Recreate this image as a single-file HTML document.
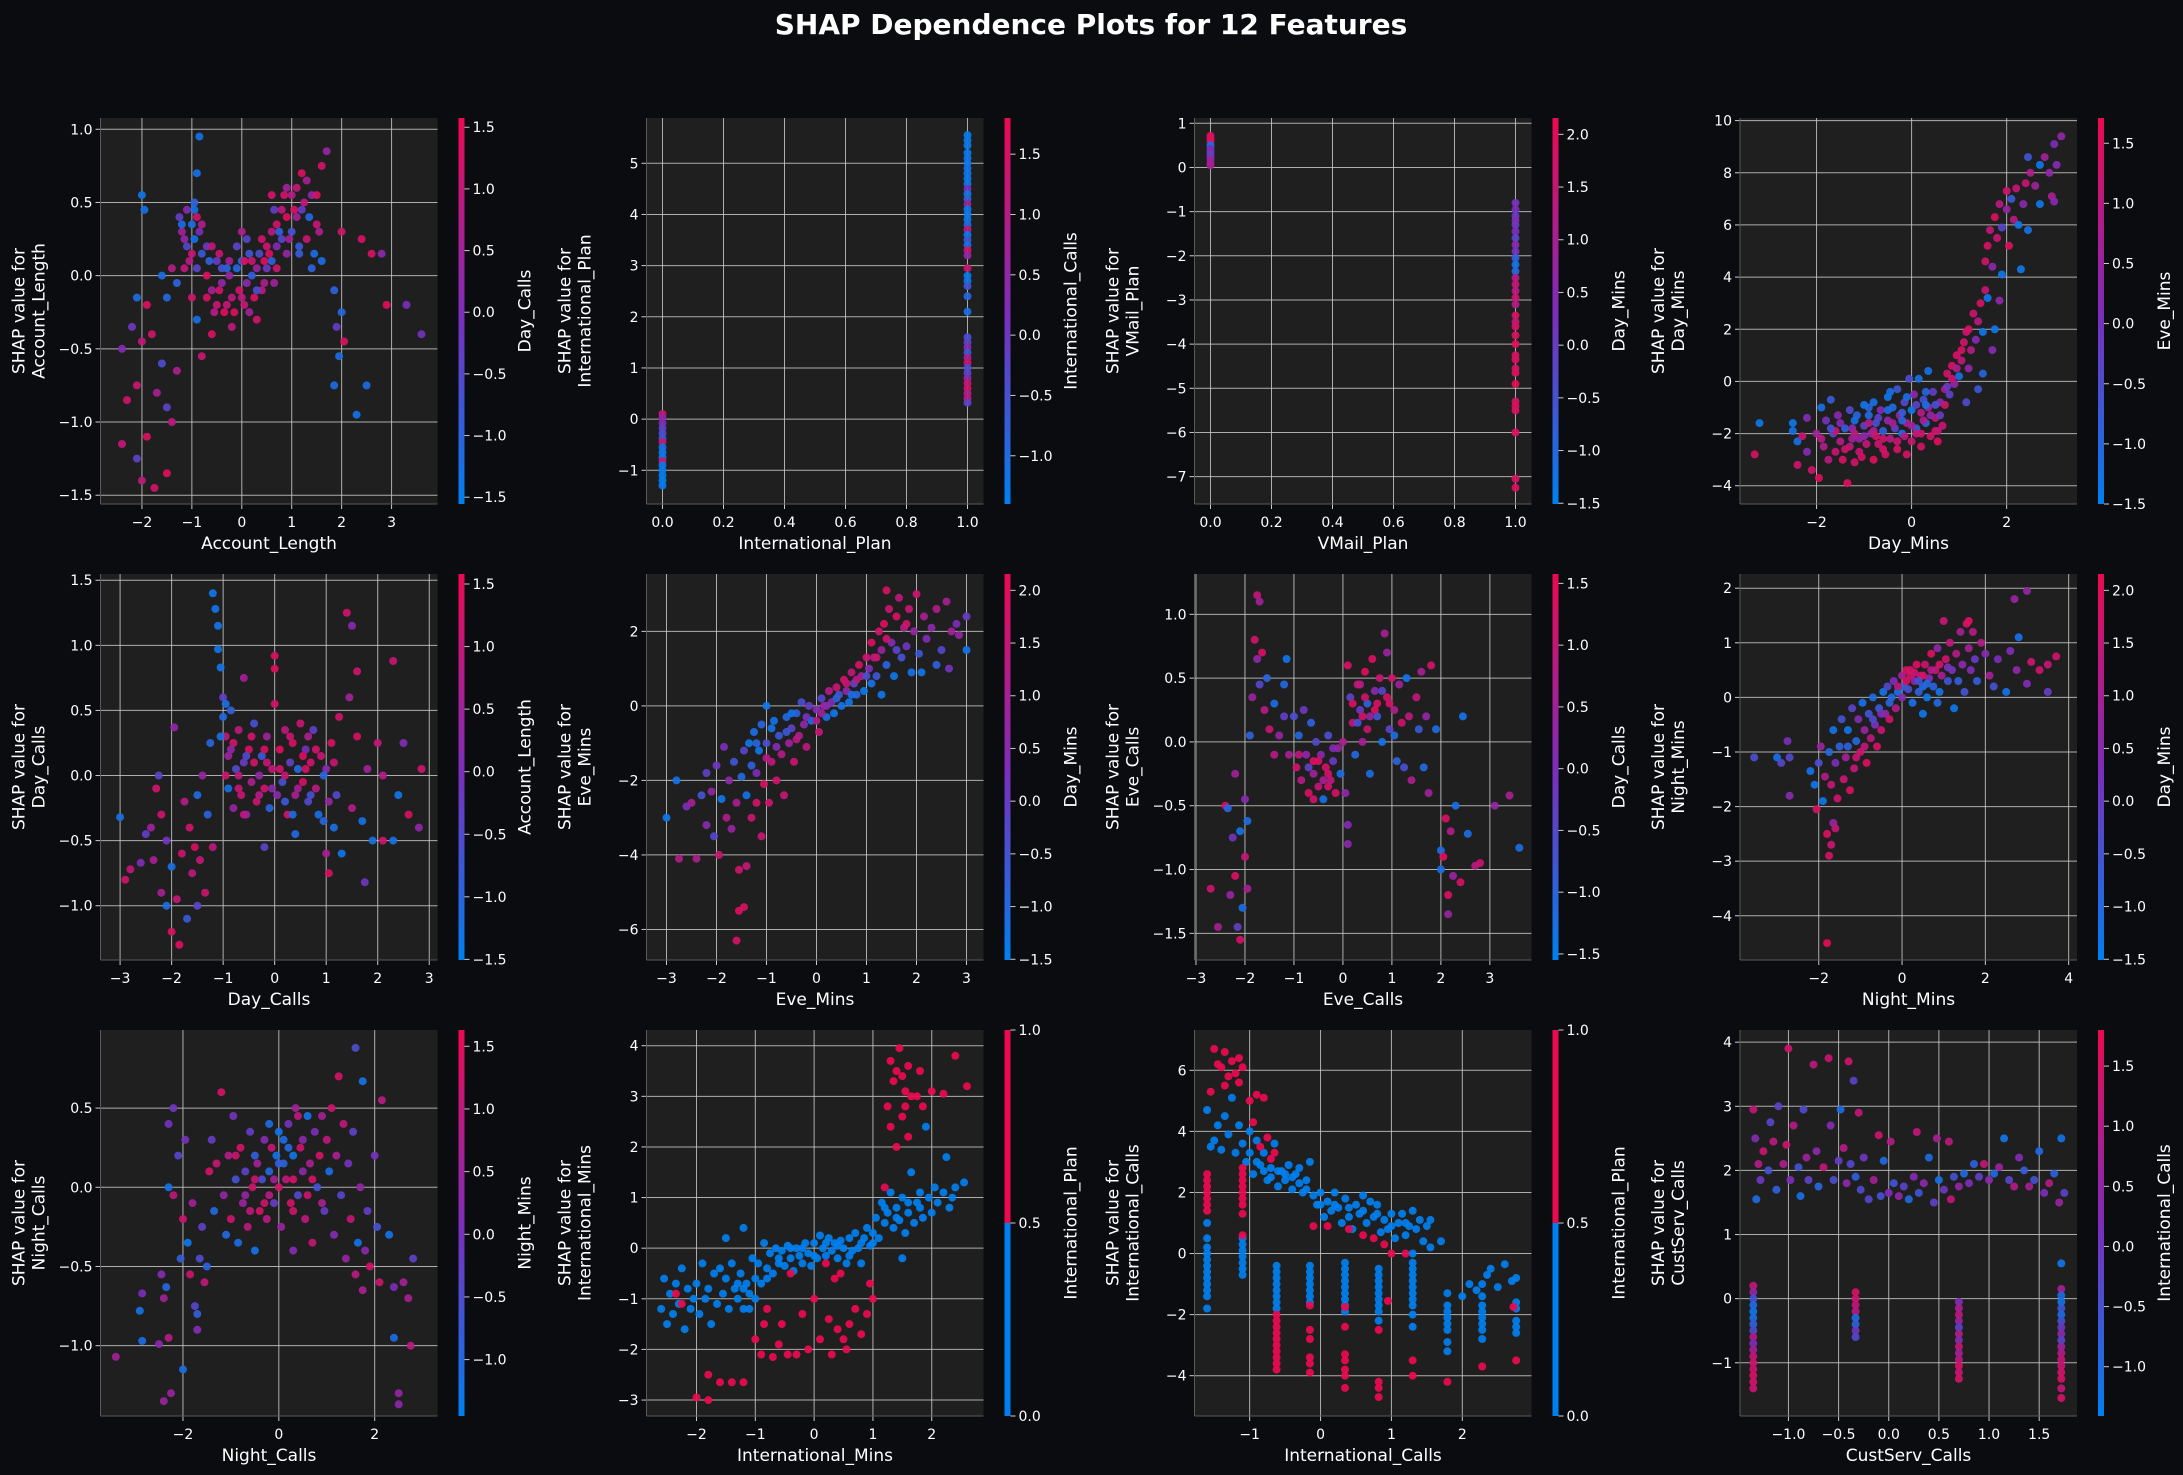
<!DOCTYPE html>
<html><head><meta charset="utf-8"><title>SHAP Dependence Plots</title>
<style>
html,body{margin:0;padding:0;background:#0b0c10;}
svg{display:block;font-family:"DejaVu Sans","Liberation Sans",sans-serif;}
</style></head>
<body>
<svg id="fig" width="2183" height="1475" viewBox="0 0 2183 1475" xmlns="http://www.w3.org/2000/svg">
<rect x="0" y="0" width="2183" height="1475" fill="#0b0c10"/>
<defs>
<linearGradient id="shapgrad" x1="0" y1="1" x2="0" y2="0">
<stop offset="0" stop-color="rgb(0,128,240)"/>
<stop offset="0.5" stop-color="rgb(125,45,185)"/>
<stop offset="1" stop-color="rgb(235,10,80)"/>
</linearGradient>
</defs>
<text x="1091" y="34" text-anchor="middle" font-size="28" font-weight="bold" fill="#ffffff">SHAP Dependence Plots for 12 Features</text>
</svg>
<script>
// ---- data (x, shap value, interaction feature value) ----
const accountLengthPts=[[-1.1,0.45,0.2],[-1.0,0.35,-1.2],[-0.95,0.5,-1.0],[-1.2,0.3,0.5],[-1.1,0.2,-0.5],[-0.9,0.4,1.2],[-1.05,0.1,0.8],[-0.95,0.25,-1.3],[-0.85,0.3,0.0],[-1.15,0.05,1.0],[-0.8,0.15,-0.8],[-0.7,0.0,1.3],[-0.6,-0.1,0.6],[-0.5,0.1,-0.3],[-0.5,-0.2,1.1],[-0.4,-0.05,0.3],[-0.35,-0.25,1.4],[-0.3,0.05,-1.1],[-0.2,-0.15,0.9],[-0.1,0.2,-0.4],[-0.05,-0.1,1.2],[0.0,0.3,0.7],[0.0,0.1,-1.2],[0.05,-0.2,1.0],[0.1,-0.05,0.2],[0.2,0.0,-0.9],[0.25,-0.15,1.3],[0.3,0.05,0.4],[0.35,0.15,-0.6],[0.4,-0.1,0.8],[0.5,0.2,1.1],[0.5,0.05,-0.2],[0.6,0.3,0.9],[0.6,0.1,-1.0],[0.7,0.35,1.2],[0.7,0.2,0.1],[0.8,0.45,0.9],[0.8,0.25,-0.5],[0.9,0.4,1.4],[0.9,0.15,0.3],[1.0,0.55,0.8],[1.0,0.3,-0.7],[1.1,0.6,1.0],[1.1,0.4,0.5],[1.2,0.7,1.3],[1.2,0.45,-0.3],[1.3,0.65,0.6],[1.3,0.25,1.1],[1.4,0.55,0.2],[1.5,0.35,1.0],[1.6,0.75,1.2],[1.6,0.1,-1.2],[1.7,0.85,0.4],[1.4,0.05,-1.0],[0.3,-0.3,1.2],[-0.2,-0.35,0.9],[-0.6,-0.4,1.3],[-0.8,-0.55,1.1],[-0.9,-0.3,-1.3],[-1.3,-0.05,-1.0],[-1.4,0.05,0.8],[-1.6,0.0,-1.2],[-1.5,-0.15,-1.1],[-1.9,-0.2,1.3],[-2.1,-0.15,-1.2],[-2.2,-0.35,-0.2],[-2.0,-0.45,1.0],[-2.4,-0.5,0.1],[-2.3,-0.85,1.2],[-2.1,-0.75,1.1],[-1.8,-0.4,1.2],[-1.6,-0.6,-0.6],[-1.7,-0.8,0.6],[-1.5,-0.9,-0.4],[-1.4,-1.0,0.9],[-1.9,-1.1,1.3],[-2.0,-1.4,0.9],[-1.75,-1.45,1.2],[-1.5,-1.35,1.4],[-2.4,-1.15,1.0],[-1.3,-0.65,0.7],[-2.1,-1.25,-0.4],[1.85,-0.1,-1.0],[1.9,-0.35,-0.3],[2.0,-0.25,-1.1],[2.05,-0.45,1.3],[1.95,-0.55,-1.2],[1.85,-0.75,-1.2],[2.3,-0.95,-1.3],[2.5,-0.75,-1.2],[2.6,0.15,1.3],[2.8,0.15,0.2],[2.9,-0.2,1.4],[3.3,-0.2,0.0],[3.6,-0.4,-0.1],[-0.85,0.95,-1.3],[-0.9,0.7,-1.3],[-2.0,0.55,-1.3],[-1.95,0.45,-1.3],[2.4,0.25,1.3],[2.0,0.3,1.2],[-0.45,0.15,1.1],[-0.25,0.1,0.6],[0.15,0.15,-0.8],[0.45,0.1,1.3],[-0.7,0.2,-0.2],[-1.0,-0.15,1.2],[0.65,-0.05,0.5],[1.15,0.15,-0.9]];
const accountLengthCore=[[-1.2,0.35,-1.2],[-1.15,0.25,0.3],[-1.0,0.15,1.1],[-0.9,0.05,-0.4],[-0.8,0.35,0.7],[-0.7,-0.15,1.3],[-0.65,0.1,-1.0],[-0.55,-0.25,0.8],[-0.45,-0.1,1.2],[-0.4,0.05,-0.7],[-0.3,-0.2,1.0],[-0.25,0.0,0.4],[-0.15,-0.25,1.3],[-0.1,0.05,-1.1],[0.0,-0.15,0.9],[0.05,0.1,1.3],[0.15,-0.25,0.5],[0.2,0.1,1.1],[0.3,-0.1,-0.6],[0.4,0.25,1.2],[0.45,-0.05,0.7],[0.55,0.15,1.3],[0.65,0.45,-0.3],[0.7,0.05,1.1],[0.75,0.3,-1.0],[0.85,0.55,1.2],[0.95,0.25,0.6],[1.05,0.45,1.3],[1.15,0.2,-0.8],[1.25,0.5,0.9],[1.35,0.4,-1.1],[1.45,0.15,-1.2],[1.55,0.3,0.7],[1.5,0.55,1.3],[0.6,0.55,1.2],[0.9,0.6,0.5],[-0.6,0.2,0.9],[-1.25,0.4,-0.3],[-0.95,0.45,-1.3],[0.1,0.25,-0.5]];
const intlPlanPts=[[0,0.1,1.2],[0,0.02,0.5],[0,-0.08,0.2],[0,-0.18,-0.2],[0,-0.28,-0.4],[0,-0.38,-0.6],[0,-0.45,1.3],[0,-0.55,-1.1],[0,-0.65,-1.2],[0,-0.75,-1.3],[0,-0.82,1.4],[0,-0.9,-1.2],[0,-1.0,-1.3],[0,-1.1,-1.3],[0,-1.2,-1.35],[0,-1.3,-1.3],[1,5.55,-1.3],[1,5.45,-1.3],[1,5.35,-1.2],[1,5.2,-1.3],[1,5.1,-1.2],[1,5.0,-1.3],[1,4.9,-1.1],[1,4.8,-1.3],[1,4.7,-1.2],[1,4.6,-1.3],[1,4.5,0.2],[1,4.4,-1.2],[1,4.3,-0.8],[1,4.2,0.8],[1,4.1,-1.3],[1,4.0,-1.2],[1,3.9,-1.3],[1,3.8,-1.0],[1,3.7,1.2],[1,3.6,-1.3],[1,3.5,-0.6],[1,3.4,-1.1],[1,3.3,1.4],[1,3.2,0.5],[1,2.95,1.3],[1,2.8,-1.3],[1,2.7,-1.2],[1,2.6,-0.6],[1,2.4,-0.9],[1,2.1,-1.1],[1,1.6,-0.5],[1,1.5,-0.2],[1,1.4,0.3],[1,1.3,-0.6],[1,1.2,0.8],[1,1.1,1.3],[1,1.0,-0.4],[1,0.9,-0.3],[1,0.8,0.4],[1,0.7,1.2],[1,0.6,1.4],[1,0.5,0.9],[1,0.4,1.1],[1,0.32,-0.2]];
const vmailPlanPts=[[0,0.72,1.9],[0,0.65,2.0],[0,0.58,1.8],[0,0.5,-1.2],[0,0.42,0.3],[0,0.35,0.5],[0,0.28,-0.2],[0,0.2,0.6],[0,0.12,0.9],[0,0.05,1.0],[1,-0.8,0.2],[1,-0.95,0.3],[1,-1.1,0.0],[1,-1.2,0.4],[1,-1.3,0.1],[1,-1.45,0.3],[1,-1.6,-0.2],[1,-1.75,0.5],[1,-1.9,0.2],[1,-2.05,-0.8],[1,-2.2,-1.2],[1,-2.35,-1.0],[1,-2.5,1.2],[1,-2.65,1.5],[1,-2.8,1.3],[1,-2.95,1.6],[1,-3.1,1.2],[1,-3.35,1.8],[1,-3.5,1.5],[1,-3.6,1.8],[1,-3.8,1.9],[1,-4.0,2.0],[1,-4.25,1.8],[1,-4.35,1.9],[1,-4.55,1.7],[1,-4.65,1.9],[1,-4.9,2.0],[1,-5.3,1.8],[1,-5.4,1.9],[1,-5.5,1.8],[1,-6.0,1.9],[1,-7.05,1.8],[1,-7.25,1.9]];
const dayMinsPts=[[-3.3,-2.8,1.4],[-3.2,-1.6,-1.3],[-2.5,-1.6,-1.3],[-2.5,-1.9,-1.2],[-2.4,-2.3,-1.2],[-2.4,-3.2,1.3],[-2.3,-2.1,1.2],[-2.2,-1.4,0.2],[-2.2,-2.7,0.2],[-2.1,-3.4,1.3],[-2.0,-2.0,0.6],[-1.95,-3.7,1.5],[-1.9,-1.0,-1.2],[-1.85,-2.5,0.8],[-1.8,-1.5,0.0],[-1.75,-3.0,1.0],[-1.7,-0.7,-0.8],[-1.65,-2.0,-0.4],[-1.6,-2.7,1.2],[-1.55,-1.3,0.3],[-1.5,-2.3,0.9],[-1.45,-3.0,1.4],[-1.4,-1.8,-0.9],[-1.35,-3.9,1.5],[-1.3,-1.1,-0.5],[-1.3,-2.5,1.0],[-1.25,-1.8,0.4],[-1.2,-3.1,1.3],[-1.15,-1.3,-1.0],[-1.1,-2.2,0.6],[-1.05,-2.9,1.4],[-1.0,-0.9,-1.3],[-1.0,-1.7,-0.2],[-0.95,-2.4,1.1],[-0.9,-1.3,-1.1],[-0.85,-2.0,0.5],[-0.8,-3.0,1.5],[-0.8,-0.8,-1.2],[-0.75,-1.6,-0.6],[-0.7,-2.4,1.2],[-0.65,-1.1,0.2],[-0.6,-1.9,-0.9],[-0.55,-2.8,1.3],[-0.5,-0.6,-1.3],[-0.5,-1.5,0.4],[-0.45,-2.2,0.9],[-0.4,-1.0,-1.1],[-0.35,-1.8,-0.3],[-0.3,-2.6,1.4],[-0.3,-0.3,-0.7],[-0.25,-1.3,0.6],[-0.2,-2.0,-1.2],[-0.15,-0.8,-0.4],[-0.1,-2.8,1.4],[-0.1,-1.6,0.8],[-0.05,0.1,-0.5],[0.0,-1.1,-1.3],[0.0,-2.3,1.2],[0.05,-0.5,0.3],[0.1,-1.8,-0.9],[0.15,0.1,-1.2],[0.2,-1.2,0.9],[0.2,-2.5,1.4],[0.25,-0.7,-0.6],[0.3,-1.6,-1.1],[0.35,0.4,-1.2],[0.35,-1.0,0.5],[0.4,-2.1,1.3],[0.45,-0.4,-0.2],[0.5,-1.4,1.0],[0.55,-2.3,1.5],[0.6,-0.8,0.2],[0.65,-1.7,1.2],[0.7,-0.3,0.7],[0.75,0.3,1.3],[0.8,-0.5,-0.3],[0.85,0.6,1.4],[0.9,-0.1,0.4],[0.95,1.0,1.4],[1.0,0.2,-1.2],[1.05,0.8,1.1],[1.1,1.5,1.3],[1.15,-0.8,-0.5],[1.2,0.5,0.4],[1.2,2.0,1.4],[1.25,1.2,0.9],[1.3,2.6,1.2],[1.35,1.6,0.2],[1.4,2.3,1.0],[1.4,-0.3,-0.7],[1.45,3.0,1.4],[1.5,1.9,-1.3],[1.5,0.3,-1.0],[1.55,3.5,1.2],[1.55,4.6,1.3],[1.6,5.2,1.4],[1.6,3.2,-1.3],[1.65,5.8,1.1],[1.7,4.4,0.3],[1.7,1.2,0.2],[1.75,6.3,1.5],[1.75,2.0,-1.3],[1.8,5.5,1.2],[1.85,3.1,0.4],[1.85,6.8,1.0],[1.9,4.1,-1.3],[1.9,5.9,-0.4],[2.0,7.3,1.3],[2.0,6.6,0.5],[2.05,5.2,1.5],[2.1,7.0,-0.8],[2.15,6.2,1.0],[2.2,7.4,1.2],[2.25,6.0,-1.3],[2.3,4.3,-1.3],[2.35,6.8,0.3],[2.4,7.6,1.2],[2.45,5.8,-1.2],[2.45,8.6,-0.7],[2.5,8.0,0.8],[2.6,7.5,0.6],[2.7,6.8,-1.3],[2.7,8.3,-1.3],[2.8,8.6,0.6],[2.9,8.0,0.4],[2.95,7.1,0.7],[3.0,6.9,0.3],[3.05,8.3,0.2],[3.0,9.1,0.1],[3.15,9.4,0.4],[-1.6,-1.9,1.2],[-1.2,-2.0,1.0],[-0.6,-2.2,1.3],[0.1,-2.0,1.1],[0.5,-1.9,1.4],[-0.9,-1.6,0.9],[-0.2,-1.5,-1.0],[0.3,-0.9,-1.2]];
const dayMinsCore=[[-1.9,-2.2,1.0],[-1.7,-1.8,-0.6],[-1.5,-1.6,0.2],[-1.4,-2.6,1.3],[-1.2,-1.5,-1.2],[-1.1,-2.7,1.2],[-1.0,-2.1,0.3],[-0.9,-1.0,-1.0],[-0.8,-1.9,0.8],[-0.7,-1.4,-0.4],[-0.6,-2.6,1.4],[-0.5,-1.1,-1.1],[-0.4,-1.6,0.7],[-0.3,-2.3,1.2],[-0.2,-1.2,-0.8],[-0.1,-0.6,-1.2],[0.0,-1.7,0.6],[0.1,-0.9,-0.3],[0.2,-2.0,1.3],[0.3,-0.4,-1.0],[0.4,-1.3,0.4],[0.5,-0.9,-0.6],[0.55,-1.9,1.1],[0.6,-1.3,-0.1],[0.7,-0.9,1.3],[0.75,-0.2,-0.2],[0.85,0.1,1.2],[0.95,0.5,0.8],[1.05,1.2,1.4],[1.15,1.9,1.3],[-0.45,-0.4,-1.2],[-0.75,-2.1,1.3],[-1.25,-2.2,0.6],[-0.15,-2.1,1.0],[0.25,-1.5,0.8]];
const dayCallsPts=[[-3.0,-0.32,-1.2],[-2.9,-0.8,1.2],[-2.8,-0.72,1.0],[-2.6,-0.67,0.1],[-2.5,-0.45,-0.3],[-2.4,-0.4,0.5],[-2.35,-0.65,0.6],[-2.3,-0.1,1.2],[-2.25,0.0,-0.4],[-2.2,-0.3,1.2],[-2.2,-0.9,0.6],[-2.1,-0.5,-0.1],[-2.1,-1.0,-1.2],[-2.0,-1.2,1.3],[-2.0,-0.7,-1.2],[-1.95,0.37,0.3],[-1.9,-0.95,1.0],[-1.85,-1.3,1.4],[-1.8,-0.6,1.1],[-1.75,-0.2,0.8],[-1.7,-1.1,-0.8],[-1.65,-0.4,1.2],[-1.6,-0.75,0.9],[-1.55,-0.55,1.3],[-1.5,-1.0,-0.4],[-1.5,-0.15,-1.1],[-1.45,-0.65,1.0],[-1.4,0.0,0.4],[-1.35,-0.9,1.1],[-1.3,-0.3,-1.0],[-1.25,0.25,-1.0],[-1.2,-0.55,0.9],[-1.2,1.4,-1.3],[-1.15,1.28,-1.3],[-1.1,1.15,-1.3],[-1.1,0.97,-1.3],[-1.05,0.83,-1.3],[-1.0,0.6,-0.3],[-1.0,0.45,-1.1],[-0.95,0.3,1.0],[-0.9,0.15,0.5],[-0.9,-0.1,-1.2],[-0.85,0.5,-0.9],[-0.8,0.25,1.2],[-0.8,-0.25,0.4],[-0.75,0.05,-0.5],[-0.7,0.35,0.9],[-0.65,-0.15,1.1],[-0.6,0.75,0.6],[-0.6,0.1,-0.2],[-0.55,-0.3,0.2],[-0.5,0.2,1.3],[-0.45,-0.05,0.7],[-0.4,0.4,-0.6],[-0.35,-0.2,1.1],[-0.3,0.0,0.3],[-0.25,0.15,-0.8],[-0.2,-0.1,1.2],[-0.15,0.3,0.5],[-0.1,-0.25,-1.0],[-0.05,0.05,1.0],[0.0,0.82,1.4],[0.0,0.92,1.3],[0.0,0.55,1.2],[0.05,-0.15,0.2],[0.1,0.2,1.4],[0.15,-0.05,-0.6],[0.2,0.35,0.9],[0.25,-0.3,1.2],[0.3,0.1,-0.3],[0.35,0.25,1.3],[0.4,-0.15,0.6],[0.45,0.05,-1.1],[0.5,0.4,1.1],[0.55,-0.05,1.3],[0.6,0.2,0.0],[0.65,-0.2,-0.5],[0.7,0.1,1.2],[0.75,0.35,-0.3],[0.8,-0.1,0.9],[0.85,-0.3,-1.2],[0.9,0.15,1.1],[0.95,-0.35,-1.0],[1.0,0.05,0.2],[1.0,-0.6,0.6],[1.05,-0.75,1.3],[1.1,0.25,1.3],[1.15,-0.4,-1.2],[1.2,-0.15,-0.5],[1.25,0.45,1.2],[1.3,-0.6,-1.3],[1.4,1.25,1.2],[1.45,0.6,0.5],[1.5,1.15,0.2],[1.5,-0.25,0.8],[1.6,0.3,1.3],[1.6,0.8,1.2],[1.7,-0.35,-1.2],[1.8,0.05,0.5],[1.9,-0.5,-1.2],[2.0,0.25,1.0],[2.1,-0.5,1.2],[2.1,0.0,0.8],[2.3,0.88,1.1],[2.3,-0.5,-1.2],[2.4,-0.15,-1.3],[2.5,0.25,0.1],[2.6,-0.3,1.3],[2.8,-0.4,0.3],[2.85,0.05,1.2],[1.75,-0.82,-0.1],[-0.2,-0.55,-0.4],[0.4,-0.45,-1.1],[-0.4,0.1,1.2],[0.2,0.0,1.1],[0.6,0.05,1.3],[-0.7,0.0,0.9]];
const dayCallsCore=[[-0.95,0.0,1.2],[-0.85,0.2,0.3],[-0.7,-0.1,1.0],[-0.55,0.15,-0.5],[-0.45,0.3,1.2],[-0.3,-0.15,0.8],[-0.2,0.2,1.3],[-0.05,-0.1,0.2],[0.1,0.05,1.2],[0.2,-0.2,-0.8],[0.3,0.3,1.1],[0.45,-0.1,0.6],[0.55,0.15,1.3],[0.7,-0.15,-0.6],[0.8,0.2,1.2],[0.95,0.0,-1.0],[1.05,-0.2,0.4],[1.15,0.1,1.1],[-0.6,-0.3,0.9],[0.35,-0.3,-1.1],[-0.15,0.1,1.0],[0.65,0.3,0.7],[-1.05,0.3,-1.2],[-0.95,0.55,-1.2]];
const eveMinsPts=[[-3.0,-3.0,-1.3],[-2.8,-2.0,-1.2],[-2.75,-4.1,1.2],[-2.6,-2.7,0.3],[-2.5,-2.6,1.0],[-2.4,-4.1,1.1],[-2.3,-2.4,-0.5],[-2.2,-1.8,-0.1],[-2.2,-3.2,0.5],[-2.1,-2.3,0.7],[-2.05,-3.5,-0.3],[-2.0,-1.6,0.1],[-1.95,-4.0,1.6],[-1.9,-2.5,-1.3],[-1.85,-1.1,0.3],[-1.8,-3.0,1.2],[-1.75,-2.0,0.6],[-1.7,-3.3,0.8],[-1.65,-1.5,-0.6],[-1.6,-2.6,1.0],[-1.55,-4.4,1.7],[-1.55,-5.5,1.9],[-1.6,-6.3,1.8],[-1.45,-5.4,1.8],[-1.5,-1.9,-1.0],[-1.45,-1.2,-0.2],[-1.4,-4.3,1.5],[-1.4,-2.4,-1.2],[-1.35,-1.0,-1.3],[-1.3,-3.0,1.6],[-1.3,-1.6,-0.8],[-1.25,-0.7,-1.1],[-1.2,-2.6,1.7],[-1.2,-1.8,0.3],[-1.15,-1.2,-1.3],[-1.1,-3.5,1.5],[-1.1,-0.5,-0.9],[-1.05,-2.1,1.8],[-1.0,-1.0,-0.4],[-1.0,0.0,-1.3],[-0.95,-2.6,1.6],[-0.9,-1.5,1.4],[-0.85,-0.4,-1.2],[-0.8,-2.0,1.7],[-0.75,-0.8,-0.6],[-0.7,-1.3,1.2],[-0.65,-2.4,1.5],[-0.6,-0.3,-1.0],[-0.55,-1.0,0.8],[-0.5,-0.6,-0.2],[-0.45,-1.5,1.6],[-0.4,-0.2,-0.8],[-0.35,-0.8,1.1],[-0.3,0.1,-0.4],[-0.25,-0.5,0.6],[-0.2,-1.1,1.4],[-0.15,0.0,0.0],[-0.1,-0.4,-1.2],[0.0,-0.1,0.4],[0.05,-0.7,1.5],[0.1,0.2,-0.3],[0.15,0.0,1.0],[0.2,-0.3,-1.1],[0.25,0.4,1.2],[0.3,0.1,0.3],[0.35,-0.2,-1.3],[0.4,0.5,1.5],[0.45,0.3,-0.5],[0.5,0.0,-1.2],[0.55,0.7,1.7],[0.6,0.4,0.6],[0.65,0.1,-1.3],[0.7,0.9,1.4],[0.75,0.6,-0.2],[0.8,0.3,-1.0],[0.85,1.1,1.8],[0.9,0.8,1.0],[0.95,0.4,-1.3],[1.0,1.3,1.6],[1.05,1.0,0.4],[1.1,0.6,-1.2],[1.1,1.7,1.9],[1.15,1.3,1.2],[1.2,0.8,-0.6],[1.25,2.0,1.7],[1.3,1.5,0.8],[1.3,0.3,-1.3],[1.35,2.2,1.9],[1.4,1.1,-0.9],[1.4,3.1,1.8],[1.45,2.6,1.6],[1.5,1.7,0.4],[1.55,0.8,-1.3],[1.6,2.4,1.8],[1.65,2.9,1.4],[1.7,1.3,-0.5],[1.75,2.1,1.2],[1.8,1.6,0.1],[1.85,2.6,1.5],[1.9,0.9,-1.2],[1.95,2.0,0.7],[2.0,3.0,1.6],[2.05,1.4,-0.6],[2.1,0.9,-1.3],[2.15,2.4,1.0],[2.2,1.8,0.4],[2.3,2.1,0.6],[2.4,1.1,-0.8],[2.4,2.6,1.2],[2.5,1.5,-0.3],[2.6,2.8,1.0],[2.65,1.0,0.2],[2.7,2.0,0.9],[2.8,2.2,0.3],[2.85,1.9,0.7],[3.0,2.4,0.0],[3.0,1.5,-1.2]];
const eveMinsCore=[[-1.2,-1.0,-0.9],[-1.0,-1.4,1.2],[-0.8,-1.1,0.4],[-0.6,-0.7,-0.6],[-0.4,-0.9,1.3],[-0.2,-0.3,0.2],[0.0,-0.4,1.2],[0.2,0.0,0.5],[0.4,0.2,-0.8],[0.6,0.6,1.6],[0.8,0.7,1.3],[1.0,0.8,-0.4],[1.2,1.3,1.6],[1.4,1.8,1.7],[1.6,1.5,-0.2],[1.8,2.2,1.7],[-0.9,-0.6,-1.2],[-0.5,-0.2,-1.2],[0.1,-0.2,0.9],[0.7,0.3,-1.1]];
const eveCallsPts=[[-2.7,-1.15,1.2],[-2.55,-1.45,0.6],[-2.4,-0.5,1.3],[-2.35,-0.52,-1.1],[-2.3,-1.2,0.4],[-2.25,-0.75,-0.1],[-2.2,-1.05,1.3],[-2.2,-0.25,0.5],[-2.15,-1.45,-0.3],[-2.1,-0.7,-1.3],[-2.1,-1.55,1.3],[-2.05,-1.3,-1.2],[-2.0,-0.9,1.0],[-2.0,-0.45,0.1],[-1.95,-0.62,-1.2],[-1.95,-1.15,0.6],[-1.9,0.05,-1.0],[-1.85,0.35,0.4],[-1.8,0.8,1.2],[-1.75,1.15,1.0],[-1.7,1.1,0.5],[-1.75,0.65,0.3],[-1.7,0.45,-0.5],[-1.65,0.7,1.3],[-1.6,0.25,0.8],[-1.55,0.5,-1.0],[-1.5,0.1,1.1],[-1.4,0.3,-1.2],[-1.3,0.05,0.4],[-1.2,0.45,-1.1],[-1.15,0.65,-1.3],[-1.1,-0.1,0.6],[-1.0,0.2,-0.6],[-0.95,-0.2,1.2],[-0.9,0.05,-1.1],[-0.85,-0.3,0.8],[-0.8,0.25,-0.2],[-0.75,-0.1,0.3],[-0.7,-0.4,1.3],[-0.65,0.15,-1.0],[-0.6,-0.25,0.5],[-0.55,0.0,-0.5],[-0.5,-0.35,1.0],[-0.45,-0.1,0.2],[-0.4,-0.45,-1.3],[-0.35,-0.2,1.2],[-0.3,0.05,-0.6],[-0.25,-0.3,0.9],[-0.2,-0.15,-0.2],[-0.15,-0.4,1.3],[-0.1,-0.05,0.4],[-0.05,-0.25,-1.2],[0.0,0.0,0.7],[0.05,-0.4,0.3],[0.1,-0.65,0.1],[0.1,-0.8,0.2],[0.1,0.6,1.3],[0.15,0.35,-0.4],[0.2,0.15,1.0],[0.25,-0.1,-1.1],[0.3,0.45,1.2],[0.35,0.25,-0.2],[0.4,0.0,0.6],[0.45,0.55,1.4],[0.5,0.3,-1.0],[0.5,0.1,1.1],[0.55,-0.25,-1.2],[0.6,0.65,1.3],[0.65,0.4,0.2],[0.7,0.2,-0.8],[0.75,0.5,1.1],[0.8,0.0,-1.3],[0.85,0.85,0.6],[0.9,0.35,1.3],[0.9,0.7,0.4],[0.95,0.1,-0.4],[1.0,0.5,1.2],[1.05,0.25,0.7],[1.1,-0.15,-1.0],[1.15,0.45,0.5],[1.2,0.15,1.1],[1.25,-0.2,-0.6],[1.3,0.5,-1.3],[1.35,0.2,0.9],[1.4,-0.3,0.7],[1.5,0.35,1.0],[1.55,0.1,-0.8],[1.6,0.55,0.6],[1.65,-0.2,-1.1],[1.7,0.2,0.3],[1.8,0.6,1.2],[1.75,-0.4,0.5],[1.9,0.1,-1.2],[2.0,-0.85,-1.2],[2.05,-0.9,1.4],[2.1,-0.6,1.3],[2.0,-1.0,-1.2],[2.15,-1.2,1.3],[2.2,-0.7,0.8],[2.25,-1.05,0.4],[2.3,-0.5,-1.2],[2.4,-1.1,1.3],[2.45,0.2,-1.3],[2.55,-0.72,-1.2],[2.7,-0.97,0.8],[2.8,-0.95,1.1],[3.1,-0.5,0.3],[3.4,-0.42,0.6],[3.6,-0.83,-1.2],[2.15,-1.35,0.4],[-0.6,-0.15,1.3],[-0.3,-0.25,1.2],[0.7,0.3,1.3],[0.4,0.2,1.2]];
const eveCallsCore=[[-0.9,-0.1,0.9],[-0.7,-0.2,-0.4],[-0.5,-0.15,1.3],[-0.4,-0.3,0.6],[-0.3,-0.35,1.2],[-0.2,-0.05,0.1],[0.2,0.3,1.3],[0.3,0.15,-0.6],[0.45,0.35,1.2],[0.55,0.2,0.4],[0.65,0.25,1.3],[0.8,0.4,-0.5],[0.95,0.3,1.2],[1.05,0.05,-1.2],[-1.2,0.2,-0.3],[-1.4,-0.1,0.8],[-0.6,-0.45,1.2],[0.35,0.45,0.8]];
const nightMinsPts=[[-3.55,-1.1,-0.4],[-3.0,-1.1,-1.2],[-2.9,-1.2,-0.2],[-2.75,-0.8,0.3],[-2.7,-1.1,-0.3],[-2.7,-1.8,0.5],[-2.2,-1.35,-1.2],[-2.1,-1.6,-1.3],[-2.05,-2.05,1.8],[-2.0,-1.2,-0.4],[-1.95,-0.9,0.8],[-1.9,-1.9,-1.3],[-1.85,-1.45,1.2],[-1.8,-2.5,1.9],[-1.75,-2.9,1.8],[-1.7,-2.7,1.6],[-1.65,-2.3,0.7],[-1.6,-2.4,1.5],[-1.8,-4.5,2.0],[-1.75,-1.0,-1.0],[-1.7,-1.6,1.5],[-1.65,-0.6,-1.2],[-1.6,-1.2,0.3],[-1.55,-1.85,1.7],[-1.5,-0.9,-0.8],[-1.45,-0.4,-0.5],[-1.4,-1.5,1.6],[-1.35,-1.1,0.9],[-1.3,-0.6,-1.3],[-1.25,-1.7,1.8],[-1.2,-0.2,-0.2],[-1.15,-1.3,1.5],[-1.1,-0.8,-1.0],[-1.05,-0.4,0.4],[-1.0,-1.0,1.7],[-0.95,-0.1,-1.2],[-0.9,-0.6,0.8],[-0.85,-1.2,1.9],[-0.8,-0.3,-0.6],[-0.75,-0.75,1.4],[-0.7,0.0,-1.1],[-0.65,-0.5,0.2],[-0.6,-0.9,1.8],[-0.55,-0.2,-0.7],[-0.5,-0.6,1.6],[-0.45,0.1,-1.2],[-0.4,-0.3,0.6],[-0.35,0.2,-0.3],[-0.3,-0.4,1.7],[-0.25,0.0,-1.0],[-0.2,0.3,0.3],[-0.15,-0.2,1.2],[-0.1,0.1,-1.3],[0.0,0.4,1.0],[0.0,0.0,0.5],[0.05,0.2,-0.9],[0.1,0.5,1.8],[0.15,0.15,-0.4],[0.2,0.4,1.6],[0.25,-0.1,-1.2],[0.3,0.3,0.7],[0.35,0.6,1.9],[0.4,0.1,-0.8],[0.45,0.4,1.3],[0.5,0.2,-1.1],[0.55,0.6,1.7],[0.6,0.0,-1.3],[0.65,0.35,0.4],[0.7,0.8,1.9],[0.75,0.2,-0.9],[0.8,0.5,1.5],[0.85,0.9,0.6],[0.9,0.1,-1.2],[0.95,0.4,1.0],[1.0,1.4,1.5],[1.05,0.7,1.7],[1.1,0.3,-0.6],[1.15,1.0,1.4],[1.2,0.5,0.2],[1.25,-0.2,-1.3],[1.3,0.8,1.2],[1.35,0.3,-0.8],[1.4,1.2,1.0],[1.45,0.6,0.6],[1.5,0.1,-0.5],[1.55,1.35,1.8],[1.6,0.9,1.0],[1.65,0.5,0.4],[1.7,1.2,1.3],[1.75,0.7,0.0],[1.8,0.3,-0.8],[1.9,1.0,1.2],[2.0,0.8,0.5],[2.1,0.4,1.0],[2.2,0.2,-0.5],[2.3,0.7,0.3],[2.5,0.1,-1.2],[2.6,0.85,0.4],[2.75,0.5,0.6],[2.8,1.1,-1.2],[3.0,0.25,0.4],[3.3,0.5,1.7],[3.5,0.6,1.5],[3.7,0.75,1.7],[3.1,0.65,1.6],[2.7,1.8,0.8],[3.0,1.95,0.7],[1.6,1.4,1.9],[0.5,-0.3,-1.3],[0.85,-0.1,-1.0],[3.5,0.1,0.0]];
const nightMinsCore=[[-0.9,-0.9,1.4],[-0.7,-0.4,-0.3],[-0.5,-0.3,0.4],[-0.3,-0.1,-0.9],[-0.1,0.2,1.4],[0.1,0.3,1.9],[0.3,0.45,1.6],[0.5,0.4,1.8],[0.7,0.5,1.2],[0.9,0.6,1.7],[1.1,0.55,0.2],[0.4,0.3,-0.5],[0.6,0.25,-1.0],[-1.1,-1.1,1.6],[-1.3,-0.9,-0.8],[0.2,0.5,1.8]];
const nightCallsPts=[[-3.4,-1.07,0.6],[-2.9,-0.78,-1.2],[-2.85,-0.67,0.1],[-2.85,-0.97,-1.1],[-2.5,-0.99,0.3],[-2.45,-0.55,0.2],[-2.4,-0.7,0.6],[-2.4,-1.35,0.5],[-2.35,-0.63,-1.0],[-2.3,-0.95,0.9],[-2.3,0.4,0.0],[-2.3,0.0,-1.2],[-2.2,0.5,-0.1],[-2.2,-0.05,1.0],[-2.1,0.2,-0.4],[-2.05,-0.45,-0.8],[-2.0,-0.2,1.2],[-1.95,0.3,0.0],[-1.9,-0.35,-1.3],[-1.85,-0.55,1.2],[-1.8,-0.1,0.6],[-1.75,-0.75,-0.4],[-1.7,-0.9,0.2],[-1.65,-0.45,-0.5],[-1.6,-0.25,-0.3],[-1.55,-0.6,1.0],[-1.5,-0.5,-0.9],[-1.45,0.1,1.3],[-1.4,0.3,-0.2],[-1.35,-0.15,-1.0],[-1.3,0.15,1.1],[-1.2,0.6,1.3],[-1.15,-0.05,0.4],[-1.1,-0.3,-1.0],[-1.05,0.2,0.8],[-1.0,-0.2,1.2],[-0.95,0.45,0.0],[-0.9,0.05,-0.6],[-0.85,-0.35,-1.1],[-0.8,0.25,1.3],[-0.75,-0.1,0.5],[-0.7,0.1,-0.3],[-0.65,-0.25,1.0],[-0.6,0.35,-0.2],[-0.55,0.0,1.2],[-0.5,-0.4,-1.2],[-0.45,0.15,0.6],[-0.4,-0.15,1.3],[-0.35,0.05,-0.5],[-0.3,0.3,0.2],[-0.25,-0.2,0.9],[-0.2,0.1,-1.0],[-0.15,0.25,1.1],[-0.1,-0.1,-0.2],[-0.05,0.2,-1.2],[0.0,0.0,1.3],[0.0,0.15,-0.8],[0.05,-0.25,0.5],[0.1,0.3,-1.1],[0.15,0.05,1.0],[0.2,0.4,0.0],[0.25,-0.1,1.3],[0.3,0.2,-1.2],[0.35,0.5,0.6],[0.4,-0.05,-0.4],[0.45,0.25,1.2],[0.5,0.1,0.3],[0.55,-0.2,1.0],[0.6,0.45,-1.2],[0.65,0.15,0.7],[0.7,-0.35,1.1],[0.75,0.35,0.1],[0.8,0.0,-0.6],[0.85,0.2,1.3],[0.9,0.45,0.6],[0.95,-0.15,-0.2],[1.0,0.3,1.0],[1.05,0.1,-1.1],[1.1,0.5,1.2],[1.15,-0.3,0.2],[1.2,0.2,0.7],[1.25,0.7,1.3],[1.3,-0.05,-0.4],[1.35,0.4,1.0],[1.4,-0.45,0.5],[1.45,0.15,0.0],[1.5,-0.2,1.1],[1.55,0.35,-0.3],[1.6,-0.55,0.9],[1.6,0.88,-0.5],[1.65,-0.35,-1.2],[1.7,0.0,0.4],[1.75,0.67,-1.2],[1.75,-0.65,0.7],[1.8,-0.4,0.3],[1.85,-0.15,-0.2],[1.9,-0.5,1.3],[2.0,0.2,0.0],[2.05,-0.25,-0.6],[2.1,-0.6,1.2],[2.15,0.55,0.9],[2.3,-0.3,-1.2],[2.4,-0.63,0.1],[2.4,-0.95,-1.1],[2.5,-1.3,0.4],[2.5,-1.37,0.3],[2.6,-0.6,0.6],[2.7,-0.7,0.7],[2.75,-1.0,0.9],[2.8,-0.45,-0.3],[-1.7,-0.8,-0.8],[-2.0,-1.15,-1.1],[-2.25,-1.3,0.5],[0.3,-0.4,0.2],[-0.5,0.05,1.2],[0.3,0.05,1.3],[-0.2,-0.05,0.9]];
const nightCallsCore=[[-0.9,0.2,1.2],[-0.7,-0.05,0.4],[-0.5,0.2,-0.8],[-0.3,-0.1,1.2],[-0.1,0.05,0.6],[0.1,0.15,-0.9],[0.3,-0.15,1.2],[0.5,0.3,0.3],[0.7,0.05,1.3],[0.9,-0.1,0.7],[0.0,0.35,-1.2],[0.2,0.25,-1.0],[-0.6,-0.15,1.0],[0.6,-0.05,1.2],[-0.2,0.4,-1.1],[0.4,0.45,1.0]];
const intlMinsPts=[[-2.6,-1.2,0],[-2.55,-0.6,0],[-2.5,-1.5,0],[-2.45,-0.9,0],[-2.4,-1.3,0],[-2.35,-0.7,0],[-2.3,-1.1,0],[-2.25,-0.4,0],[-2.2,-1.6,0],[-2.15,-0.8,0],[-2.1,-1.2,0],[-2.05,-1.0,0],[-2.0,-0.7,0],[-1.95,-1.3,0],[-1.9,-0.3,0],[-1.85,-1.0,0],[-1.8,-0.8,0],[-1.75,-1.5,0],[-1.7,-0.5,0],[-1.65,-1.1,0],[-1.6,-0.4,0],[-1.55,-0.9,0],[-1.5,-0.6,0],[-1.45,-1.2,0],[-1.4,-0.3,0],[-1.35,-0.8,0],[-1.3,-1.0,0],[-1.25,-0.5,0],[-1.2,-1.2,0],[-1.15,-0.7,0],[-1.1,-0.9,0],[-1.05,-0.2,0],[-1.0,-0.6,0],[-0.95,-0.3,0],[-0.9,-0.7,0],[-0.85,0.1,0],[-0.8,-0.4,0],[-0.75,-0.1,0],[-0.7,-0.5,0],[-0.65,0.0,0],[-0.6,-0.3,0],[-0.55,-0.05,0],[-0.5,-0.35,0],[-0.45,0.05,0],[-0.4,-0.2,0],[-0.35,-0.45,0],[-0.3,0.0,0],[-0.25,-0.15,0],[-0.2,-0.3,0],[-0.15,0.1,0],[-0.1,-0.1,0],[-0.05,-0.35,0],[0.0,0.1,0],[0.05,-0.2,0],[0.1,0.25,0],[0.15,0.0,0],[0.2,-0.15,0],[0.25,0.2,0],[0.3,-0.05,0],[0.35,0.1,0],[0.4,-0.2,0],[0.45,0.15,0],[0.5,0.0,0],[0.55,-0.3,0],[0.6,0.2,0],[0.65,-0.05,0],[0.7,0.3,0],[0.75,0.0,0],[0.8,-0.3,0],[0.85,0.2,0],[0.9,0.4,0],[0.95,0.05,0],[1.0,0.3,0],[1.05,0.6,0],[1.1,0.2,0],[1.15,0.9,0],[1.2,0.5,0],[1.25,0.7,0],[1.3,1.1,0],[1.35,0.4,0],[1.4,0.8,0],[1.45,0.55,0],[1.5,1.0,0],[1.55,0.3,0],[1.6,0.7,0],[1.65,1.5,0],[1.7,0.5,0],[1.75,0.9,0],[1.8,1.1,0],[1.85,0.6,0],[1.9,2.4,0],[1.95,1.0,0],[2.0,0.7,0],[2.05,1.2,0],[2.1,0.9,0],[2.2,1.1,0],[2.25,1.8,0],[2.3,0.8,0],[2.35,1.0,0],[2.4,1.2,0],[2.55,1.3,0],[1.5,-0.2,0],[-1.2,0.4,0],[-1.5,0.2,0],[1.3,3.7,1],[1.35,3.3,1],[1.4,3.5,1],[1.45,3.95,1],[1.5,3.4,1],[1.55,3.1,1],[1.6,3.6,1],[1.65,3.0,1],[1.3,2.4,1],[1.25,2.8,1],[1.5,2.6,1],[1.6,2.2,1],[1.75,3.0,1],[1.8,3.5,1],[1.85,2.8,1],[2.0,3.1,1],[2.2,3.05,1],[2.4,3.8,1],[2.6,3.2,1],[1.4,2.0,1],[1.55,2.8,1],[1.2,1.2,1],[1.0,-1.0,1],[0.95,-0.7,1],[0.9,-1.3,1],[0.8,-1.7,1],[0.7,-1.2,1],[0.6,-1.5,1],[0.55,-2.0,1],[0.5,-1.8,1],[0.4,-1.6,1],[0.3,-2.1,1],[0.25,-1.4,1],[0.1,-1.8,1],[0.0,-1.0,1],[-0.1,-2.0,1],[-0.2,-1.3,1],[-0.3,-2.1,1],[-0.45,-2.1,1],[-0.55,-1.5,1],[-0.6,-1.9,1],[-0.7,-2.15,1],[-0.8,-1.2,1],[-0.85,-1.5,1],[-0.9,-2.1,1],[-1.0,-1.8,1],[0.35,-0.6,1],[0.45,-0.5,1],[0.2,-0.3,1],[-0.4,-0.5,1],[-2.35,-0.9,1],[-2.25,-1.1,1],[-2.0,-2.95,1],[-1.8,-3.0,1],[-1.8,-2.5,1],[-1.6,-2.65,1],[-1.4,-2.65,1],[-1.2,-2.65,1]];
const intlMinsCore=[[-1.2,-0.8,0],[-1.0,-1.0,0],[-0.8,-0.6,0],[-0.6,-0.2,0],[-0.4,0.0,0],[-0.2,0.0,0],[0.0,-0.15,0],[0.2,0.1,0],[0.4,0.05,0],[0.6,-0.15,0],[0.8,0.1,0],[1.0,0.1,0],[1.2,0.8,0],[1.4,0.6,0],[1.6,0.9,0],[1.8,0.8,0],[-1.3,-0.7,0],[-1.1,-1.2,0]];
const intlCallsPts=[[-1.6,4.7,0],[-1.55,3.5,0],[-1.5,3.7,0],[-1.45,4.2,0],[-1.4,3.4,0],[-1.35,4.5,0],[-1.3,3.9,0],[-1.25,5.1,0],[-1.2,3.3,0],[-1.15,4.2,0],[-1.1,3.6,0],[-1.05,3.0,0],[-1.0,4.0,0],[-0.95,2.6,0],[-0.9,3.7,0],[-0.85,2.9,0],[-0.8,3.3,0],[-0.75,2.4,0],[-0.7,2.8,0],[-0.65,3.6,0],[-0.6,2.2,0],[-0.55,2.7,0],[-0.5,2.4,0],[-0.45,2.9,0],[-0.4,2.1,0],[-0.35,2.6,0],[-0.3,2.8,0],[-0.25,2.0,0],[-0.2,2.4,0],[-0.15,3.0,0],[-0.1,1.9,0],[-0.05,1.6,0],[0.0,2.0,0],[0.05,1.2,0],[0.1,1.7,0],[0.15,1.4,0],[0.2,2.0,0],[0.25,1.5,0],[0.3,1.0,0],[0.35,1.8,0],[0.4,1.2,0],[0.45,0.8,0],[0.5,1.6,0],[0.55,1.3,0],[0.6,1.9,0],[0.65,1.0,0],[0.7,1.7,0],[0.75,1.2,0],[0.8,1.6,0],[0.85,0.7,0],[0.9,1.1,0],[0.95,0.8,0],[1.0,1.3,0],[1.05,0.5,0],[1.1,1.0,0],[1.15,1.3,0],[1.2,0.6,0],[1.25,0.9,0],[1.3,1.4,0],[1.35,0.8,0],[1.4,1.1,0],[1.45,0.4,0],[1.5,0.9,0],[1.55,1.1,0],[1.7,0.4,0],[1.55,0.2,0],[-1.5,6.7,1],[-1.45,6.2,1],[-1.4,6.1,1],[-1.35,6.6,1],[-1.3,5.8,1],[-1.25,6.3,1],[-1.2,5.9,1],[-1.15,6.4,1],[-1.1,6.1,1],[-1.55,5.3,1],[-1.35,5.5,1],[-1.15,5.6,1],[-1.0,5.0,1],[-0.9,5.2,1],[-0.8,5.1,1],[-0.95,4.3,1],[-0.85,3.5,1],[-0.75,3.8,1],[-0.7,3.1,1],[-0.65,3.3,1],[-0.1,0.9,1],[0.1,0.9,1],[0.4,0.8,1],[0.6,0.6,1],[0.75,0.5,1],[0.9,0.3,1],[1.0,0.0,1],[1.2,0.0,1],
[-1.6,-1.8,0],[-1.6,-1.4,0],[-1.6,-1.2,0],[-1.6,-1.0,0],[-1.6,-0.8,0],[-1.6,-0.6,0],[-1.6,-0.4,0],[-1.6,-0.2,0],[-1.6,0.0,0],[-1.6,0.2,0],[-1.6,0.5,0],[-1.6,1.0,0],[-1.6,1.4,1],[-1.6,1.6,1],[-1.6,1.8,1],[-1.6,2.0,1],[-1.6,2.2,1],[-1.6,2.4,1],[-1.6,2.6,1],
[-1.1,-0.7,0],[-1.1,-0.5,0],[-1.1,-0.3,0],[-1.1,-0.1,0],[-1.1,0.1,0],[-1.1,0.3,0],[-1.1,0.5,0],[-1.1,0.6,1],[-1.1,1.3,1],[-1.1,1.6,1],[-1.1,1.8,1],[-1.1,2.0,1],[-1.1,2.2,1],[-1.1,2.4,1],[-1.1,2.6,1],[-1.1,2.8,1],
[-0.62,-0.4,0],[-0.62,-0.6,0],[-0.62,-0.8,0],[-0.62,-1.0,0],[-0.62,-1.2,0],[-0.62,-1.4,0],[-0.62,-1.6,0],[-0.62,-1.8,0],[-0.62,-2.0,1],[-0.62,-2.2,1],[-0.62,-2.4,1],[-0.62,-2.6,1],[-0.62,-2.8,1],[-0.62,-3.0,1],[-0.62,-3.2,1],[-0.62,-3.4,1],[-0.62,-3.6,1],[-0.62,-3.8,1],
[-0.15,-0.4,0],[-0.15,-0.6,0],[-0.15,-0.8,0],[-0.15,-1.0,0],[-0.15,-1.2,0],[-0.15,-1.4,0],[-0.15,-1.6,0],[-0.15,-1.7,1],[-0.15,-2.5,1],[-0.15,-2.8,1],[-0.15,-3.4,1],[-0.15,-3.6,1],[-0.15,-3.9,1],
[0.345,-0.3,0],[0.345,-0.5,0],[0.345,-0.7,0],[0.345,-0.9,0],[0.345,-1.1,0],[0.345,-1.3,0],[0.345,-1.5,0],[0.345,-1.7,0],[0.345,-1.9,0],[0.345,-1.75,1],[0.345,-2.4,1],[0.345,-3.3,1],[0.345,-3.5,1],[0.345,-3.8,1],[0.345,-4.0,1],[0.345,-4.4,1],
[0.82,-0.5,0],[0.82,-0.7,0],[0.82,-0.9,0],[0.82,-1.1,0],[0.82,-1.3,0],[0.82,-1.5,0],[0.82,-1.7,0],[0.82,-1.9,0],[0.82,-2.2,0],[0.82,-2.5,1],[0.82,-4.2,1],[0.82,-4.4,1],[0.82,-4.7,1],[0.95,-1.55,1],
[1.3,0.0,0],[1.3,-0.3,0],[1.3,-0.5,0],[1.3,-0.7,0],[1.3,-0.9,0],[1.3,-1.1,0],[1.3,-1.3,0],[1.3,-1.5,0],[1.3,-1.7,0],[1.3,-2.0,0],[1.3,-2.4,0],[1.3,-3.5,1],[1.3,-4.0,1],
[1.79,-1.3,0],[1.79,-1.7,0],[1.79,-1.9,0],[1.79,-2.1,0],[1.79,-2.3,0],[1.79,-2.5,0],[1.79,-2.9,0],[1.79,-3.2,0],[1.79,-4.2,1],
[2.28,-1.0,0],[2.28,-1.4,0],[2.28,-1.7,0],[2.28,-1.9,0],[2.28,-2.1,0],[2.28,-2.3,0],[2.28,-2.5,0],[2.28,-2.8,0],[2.28,-3.7,1],[2.0,-1.4,0],[2.1,-1.0,0],[2.2,-1.2,0],[2.35,-0.7,0],[2.4,-0.5,0],[2.5,-1.1,0],[2.6,-0.35,0],[2.7,-0.9,0],
[2.76,-0.8,0],[2.76,-1.6,0],[2.76,-1.8,0],[2.76,-2.2,0],[2.76,-2.4,0],[2.76,-2.6,0],[2.72,-1.75,1],[2.76,-3.5,1]];
const intlCallsCore=[[-1.0,3.3,0],[-0.9,3.0,0],[-0.8,2.7,0],[-0.7,2.5,0],[-0.6,2.7,0],[-0.5,2.6,0],[-0.4,2.5,0],[-0.3,2.3,0],[-0.2,2.1,0],[0.0,1.6,0],[0.2,1.6,0],[0.4,1.5,0],[0.6,1.4,0],[0.8,1.3,0],[1.0,0.9,0],[1.2,1.0,0]];
const custServPts=[[-1.35,2.95,1.2],[-1.33,2.5,0.3],[-1.3,2.1,1.0],[-1.32,1.55,-1.0],[-1.28,1.85,0.0],[-1.25,2.3,1.3],[-1.2,2.0,-0.5],[-1.18,2.75,-0.3],[-1.15,2.45,1.1],[-1.12,1.7,-0.8],[-1.1,3.0,-0.2],[-1.05,2.1,0.9],[-1.02,2.4,1.3],[-1.0,3.9,1.4],[-0.98,1.85,0.2],[-0.95,2.7,1.0],[-0.9,2.05,-0.6],[-0.88,1.6,-1.1],[-0.85,2.95,-0.4],[-0.82,2.2,0.7],[-0.8,1.85,-0.2],[-0.75,3.65,1.1],[-0.72,2.3,0.4],[-0.7,1.75,-0.9],[-0.65,2.05,1.2],[-0.6,3.75,1.3],[-0.58,2.7,0.3],[-0.55,1.85,-0.4],[-0.5,2.15,-0.1],[-0.48,2.95,-1.0],[-0.45,2.35,1.0],[-0.42,1.8,0.4],[-0.4,3.7,1.4],[-0.38,2.1,-0.3],[-0.35,3.4,-0.2],[-0.33,1.9,-0.8],[-0.3,2.9,1.2],[-0.28,1.7,-0.4],[-0.25,2.2,0.0],[-0.2,1.55,-0.3],[-0.15,1.85,0.8],[-0.1,2.55,1.4],[-0.08,1.6,-0.5],[-0.05,2.15,-1.0],[0.0,1.65,0.2],[0.02,2.45,1.0],[0.05,1.8,-0.6],[0.1,1.6,0.5],[0.15,1.75,-0.2],[0.2,1.55,-1.0],[0.25,1.9,0.3],[0.28,2.6,1.2],[0.3,1.65,-0.6],[0.35,1.8,0.4],[0.4,2.2,-1.0],[0.45,1.5,-0.2],[0.48,2.5,0.8],[0.5,1.85,-1.1],[0.55,1.7,0.0],[0.6,2.45,1.1],[0.62,1.55,1.2],[0.65,1.9,-0.5],[0.7,1.75,0.5],[0.75,1.95,-1.0],[0.8,1.8,0.2],[0.85,2.1,-0.8],[0.9,1.9,-0.2],[0.95,2.1,1.2],[1.0,1.85,0.4],[1.05,1.95,-1.0],[1.1,2.05,0.6],[1.15,2.5,-1.2],[1.2,1.85,-0.3],[1.25,1.75,1.0],[1.3,2.2,0.3],[1.35,2.0,-0.7],[1.4,1.75,0.8],[1.45,1.85,-0.5],[1.5,2.3,-1.0],[1.55,1.65,0.2],[1.6,1.8,1.0],[1.65,1.95,-0.8],[1.7,1.5,0.6],[1.72,2.5,-1.2],[1.75,1.65,-0.2],
[-1.35,0.2,1.2],[-1.35,0.1,0.5],[-1.35,0.0,-0.5],[-1.35,-0.1,-1.0],[-1.35,-0.2,-1.2],[-1.35,-0.3,-1.0],[-1.35,-0.4,-0.8],[-1.35,-0.5,-0.4],[-1.35,-0.6,1.0],[-1.35,-0.7,0.2],[-1.35,-0.8,0.8],[-1.35,-0.9,1.2],[-1.35,-1.0,1.4],[-1.35,-1.1,1.3],[-1.35,-1.2,1.5],[-1.35,-1.3,1.4],[-1.35,-1.4,1.3],
[-0.33,0.1,1.5],[-0.33,0.0,1.3],[-0.33,-0.1,1.2],[-0.33,-0.2,1.0],[-0.33,-0.3,-1.0],[-0.33,-0.4,-0.8],[-0.33,-0.5,0.0],[-0.33,-0.6,-0.4],
[0.7,-0.05,0.3],[0.7,-0.15,0.8],[0.7,-0.25,1.1],[0.7,-0.35,0.6],[0.7,-0.45,-0.2],[0.7,-0.55,0.9],[0.7,-0.65,0.4],[0.7,-0.75,1.2],[0.7,-0.85,0.7],[0.7,-0.95,1.1],[0.7,-1.05,1.5],[0.7,-1.15,1.3],[0.7,-1.25,1.4],
[1.72,0.55,-1.2],[1.72,0.15,0.8],[1.72,0.05,-1.0],[1.72,-0.05,-1.2],[1.72,-0.15,-0.6],[1.72,-0.25,-1.0],[1.72,-0.35,-0.5],[1.72,-0.45,0.0],[1.72,-0.55,0.4],[1.72,-0.65,-0.3],[1.72,-0.75,0.6],[1.72,-0.85,1.0],[1.72,-0.95,1.2],[1.72,-1.05,1.3],[1.72,-1.15,1.4],[1.72,-1.25,1.5],[1.72,-1.4,1.2],[1.72,-1.55,1.5]];

// tick arrays
const ticksAL={x:[-2,-1,0,1,2,3],y:[-1.5,-1,-0.5,0,0.5,1],c:[-1.5,-1,-0.5,0,0.5,1,1.5]};
const ticksIP={x:[0,0.2,0.4,0.6,0.8,1],y:[-1,0,1,2,3,4,5],c:[-1,-0.5,0,0.5,1,1.5]};
const ticksVP={x:[0,0.2,0.4,0.6,0.8,1],y:[-7,-6,-5,-4,-3,-2,-1,0,1],c:[-1.5,-1,-0.5,0,0.5,1,1.5,2]};
const ticksDM={x:[-2,0,2],y:[-4,-2,0,2,4,6,8,10],c:[-1.5,-1,-0.5,0,0.5,1,1.5]};
const ticksDC={x:[-3,-2,-1,0,1,2,3],y:[-1,-0.5,0,0.5,1,1.5],c:[-1.5,-1,-0.5,0,0.5,1,1.5]};
const ticksEM={x:[-3,-2,-1,0,1,2,3],y:[-6,-4,-2,0,2],c:[-1.5,-1,-0.5,0,0.5,1,1.5,2]};
const ticksEC={x:[-3,-2,-1,0,1,2,3],y:[-1.5,-1,-0.5,0,0.5,1],c:[-1.5,-1,-0.5,0,0.5,1,1.5]};
const ticksNM={x:[-2,0,2,4],y:[-4,-3,-2,-1,0,1,2],c:[-1.5,-1,-0.5,0,0.5,1,1.5,2]};
const ticksNC={x:[-2,0,2],y:[-1,-0.5,0,0.5],c:[-1,-0.5,0,0.5,1,1.5]};
const ticksIM={x:[-2,-1,0,1,2],y:[-3,-2,-1,0,1,2,3,4],c:[0,0.5,1]};
const ticksIC={x:[-1,0,1,2],y:[-4,-2,0,2,4,6],c:[0,0.5,1]};
const ticksCS={x:[-1,-0.5,0,0.5,1,1.5],y:[-1,0,1,2,3,4],c:[-1,-0.5,0,0.5,1,1.5]};

const lefts=[100.5,646.5,1194.5,1740];
const tops=[118,574,1030];
const PW=337, PH=386;

const panels=[
{id:'account-length',feat:'Account_Length',cb:'Day_Calls',pts:accountLengthPts.concat(accountLengthCore),t:ticksAL,xd:[-2.83,3.92],yd:[-1.56,1.077],cd:[-1.555,1.575],dec:[0,1,1]},
{id:'international-plan',feat:'International_Plan',cb:'International_Calls',pts:intlPlanPts,t:ticksIP,xd:[-0.0525,1.0525],yd:[-1.659,5.885],cd:[-1.40,1.80],dec:[1,0,1]},
{id:'vmail-plan',feat:'VMail_Plan',cb:'Day_Mins',pts:vmailPlanPts,t:ticksVP,xd:[-0.0525,1.0525],yd:[-7.62,1.12],cd:[-1.507,2.155],dec:[1,0,1]},
{id:'day-mins',feat:'Day_Mins',cb:'Eve_Mins',pts:dayMinsPts.concat(dayMinsCore),t:ticksDM,xd:[-3.61,3.48],yd:[-4.70,10.10],cd:[-1.5,1.71],dec:[0,0,1]},
{id:'day-calls',feat:'Day_Calls',cb:'Account_Length',pts:dayCallsPts.concat(dayCallsCore),t:ticksDC,xd:[-3.38,3.16],yd:[-1.417,1.548],cd:[-1.505,1.58],dec:[0,1,1]},
{id:'eve-mins',feat:'Eve_Mins',cb:'Day_Mins',pts:eveMinsPts.concat(eveMinsCore),t:ticksEM,xd:[-3.40,3.34],yd:[-6.82,3.54],cd:[-1.507,2.155],dec:[0,0,1]},
{id:'eve-calls',feat:'Eve_Calls',cb:'Day_Calls',pts:eveCallsPts.concat(eveCallsCore),t:ticksEC,xd:[-3.03,3.85],yd:[-1.709,1.316],cd:[-1.549,1.576],dec:[0,1,1]},
{id:'night-mins',feat:'Night_Mins',cb:'Day_Mins',pts:nightMinsPts.concat(nightMinsCore),t:ticksNM,xd:[-3.89,4.20],yd:[-4.81,2.26],cd:[-1.507,2.155],dec:[0,0,1]},
{id:'night-calls',feat:'Night_Calls',cb:'Night_Mins',pts:nightCallsPts.concat(nightCallsCore),t:ticksNC,xd:[-3.72,3.31],yd:[-1.444,0.993],cd:[-1.45,1.63],dec:[0,1,1]},
{id:'international-mins',feat:'International_Mins',cb:'International_Plan',pts:intlMinsPts.concat(intlMinsCore),t:ticksIM,xd:[-2.85,2.88],yd:[-3.315,4.31],cd:[0,1],dec:[0,0,1],binary:true},
{id:'international-calls',feat:'International_Calls',cb:'International_Plan',pts:intlCallsPts.concat(intlCallsCore),t:ticksIC,xd:[-1.778,2.976],yd:[-5.32,7.32],cd:[0,1],dec:[0,0,1],binary:true},
{id:'custserv-calls',feat:'CustServ_Calls',cb:'International_Calls',pts:custServPts,t:ticksCS,xd:[-1.483,1.877],yd:[-1.83,4.19],cd:[-1.41,1.80],dec:[1,0,1]}
];

const NS='http://www.w3.org/2000/svg';
const svg=document.getElementById('fig');
function mk(tag,attrs,parent){const e=document.createElementNS(NS,tag);for(const k in attrs)e.setAttribute(k,attrs[k]);(parent||svg).appendChild(e);return e;}
function fmt(v,d){const s=Math.abs(v).toFixed(d);return (v<0?'\u2212':'')+s;}
const stops=[[0,[0,128,240]],[0.5,[125,45,185]],[1,[235,10,80]]];
function cmap(t){t=Math.max(0,Math.min(1,t));let a=stops[0],b=stops[1];if(t>0.5){a=stops[1];b=stops[2];}const u=(t-a[0])/(b[0]-a[0]);const c=a[1].map((v,i)=>Math.round(v+(b[1][i]-v)*u));return 'rgb('+c.join(',')+')';}

panels.forEach((p,i)=>{
  const L=lefts[i%4], T=tops[Math.floor(i/4)];
  const sx=v=>L+(v-p.xd[0])/(p.xd[1]-p.xd[0])*PW;
  const sy=v=>T+PH-(v-p.yd[0])/(p.yd[1]-p.yd[0])*PH;
  const g=mk('g',{});
  
  
  const bg=mk('rect',{x:L,y:T,width:PW,height:PH,fill:'#1f1f1f'},g);
  
  
  p.t.x.forEach(v=>{const x=sx(v);
    const gl=mk('line',{x1:x,x2:x,y1:T,y2:T+PH,stroke:'#c8c8c8','stroke-width':1,'stroke-opacity':0.85},g);
    
    
    mk('line',{x1:x,x2:x,y1:T+PH,y2:T+PH+5,stroke:'#cccccc','stroke-width':1},g);
    const tl=mk('text',{x:x,y:T+PH+23,'text-anchor':'middle','font-size':14,fill:'#ffffff'},g);
    tl.textContent=fmt(v,p.dec[0]);
    
    
  });
  p.t.y.forEach(v=>{const y=sy(v);
    const gl=mk('line',{x1:L,x2:L+PW,y1:y,y2:y,stroke:'#c8c8c8','stroke-width':1,'stroke-opacity':0.85},g);
    
    
    mk('line',{x1:L-5,x2:L,y1:y,y2:y,stroke:'#cccccc','stroke-width':1},g);
    const tl=mk('text',{x:L-8,y:y+5,'text-anchor':'end','font-size':14,fill:'#ffffff'},g);
    tl.textContent=fmt(v,p.dec[1]);
    
    
  });
  mk('line',{x1:L,x2:L,y1:T,y2:T+PH,stroke:'#5a5a5a','stroke-width':1},g);
  mk('line',{x1:L,x2:L+PW,y1:T+PH,y2:T+PH,stroke:'#5a5a5a','stroke-width':1},g);
  const dg=mk('g',{},g);
  
  
  p.pts.forEach(d=>{
    const t=(d[2]-p.cd[0])/(p.cd[1]-p.cd[0]);
    const c=mk('circle',{cx:sx(d[0]).toFixed(1),cy:sy(d[1]).toFixed(1),r:4,fill:cmap(t),'fill-opacity':0.92},dg);
    
    
  });
  const xl=mk('text',{x:L+PW/2,y:T+PH+45,'text-anchor':'middle','font-size':17,fill:'#ffffff'},g);
  xl.textContent=p.feat;
  
  
  const cy=T+PH/2;
  const yl=mk('text',{transform:'translate('+(L-76)+','+cy+') rotate(-90)','text-anchor':'middle','font-size':17,fill:'#ffffff'},g);
  
  
  const t1=mk('tspan',{x:0,y:0},yl);t1.textContent='SHAP value for';
  const t2=mk('tspan',{x:0,y:20},yl);t2.textContent=p.feat;
  const CX=L+358, CW=6;
  if(p.binary){
    const r1=mk('rect',{x:CX,y:T,width:CW,height:PH/2,fill:'rgb(235,10,80)'},g);
    
    
    mk('rect',{x:CX,y:T+PH/2,width:CW,height:PH/2,fill:'rgb(0,128,240)'},g);
  } else {
    const r=mk('rect',{x:CX,y:T,width:CW,height:PH,fill:'url(#shapgrad)'},g);
    
    
  }
  p.t.c.forEach(v=>{const y=T+PH-(v-p.cd[0])/(p.cd[1]-p.cd[0])*PH;
    mk('line',{x1:CX+CW,x2:CX+CW+5,y1:y,y2:y,stroke:'#cccccc','stroke-width':1},g);
    const tl=mk('text',{x:CX+CW+8,y:y+5,'font-size':14,fill:'#ffffff'},g);
    tl.textContent=fmt(v,p.dec[2]);
    
    
  });
  const cl=mk('text',{transform:'translate('+(L+430)+','+cy+') rotate(-90)','text-anchor':'middle','font-size':17,fill:'#ffffff'},g);
  cl.textContent=p.cb;
  
  
});
</script>
</body></html>
